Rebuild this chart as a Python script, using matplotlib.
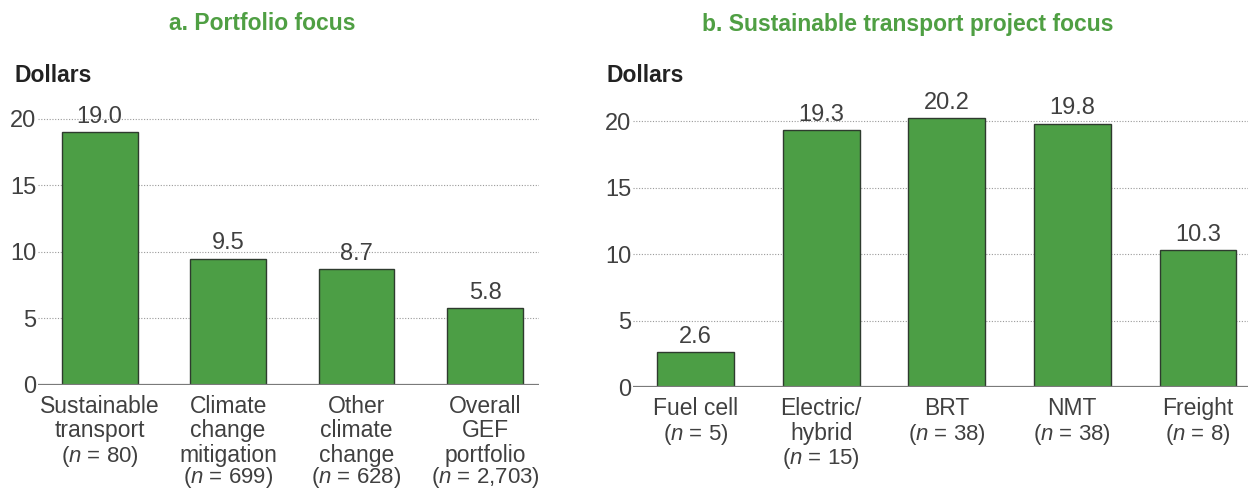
import matplotlib
matplotlib.use("Agg")
import matplotlib.pyplot as plt

plt.rcParams['font.family'] = ['Liberation Sans', 'DejaVu Sans']
plt.rcParams['mathtext.fontset'] = 'custom'
plt.rcParams['mathtext.it'] = 'Liberation Sans:italic'
plt.rcParams['mathtext.rm'] = 'Liberation Sans'

# panel a
cats_a = ["Sustainable\ntransport", "Climate\nchange\nmitigation", "Other\nclimate\nchange", "Overall\nGEF\nportfolio"]
n_a = ["80", "699", "628", "2,703"]
vals_a = [19.0, 9.5, 8.7, 5.8]

# panel b
cats_b = ["Fuel cell", "Electric/\nhybrid", "BRT", "NMT", "Freight"]
n_b = ["5", "15", "38", "38", "8"]
vals_b = [2.6, 19.3, 20.2, 19.8, 10.3]

bar_col = "#4c9e45"
edge_col = "#2e3b2e"
green_txt = "#4f9f43"
txt_col = "#404040"

fig = plt.figure(figsize=(12.48, 4.9), dpi=100)
ax1 = fig.add_axes([0.0304, 0.2143, 0.4015, 0.570])
ax2 = fig.add_axes([0.5072, 0.2102, 0.4928, 0.570])


def draw(ax, cats, ns, vals, width, xlim):
    x = list(range(len(cats)))
    ax.bar(x, vals, width=width, color=bar_col, edgecolor=edge_col, linewidth=1.0, zorder=3)
    ax.set_xlim(*xlim)
    ax.set_ylim(0, 21)
    ax.set_yticks([0, 5, 10, 15, 20])
    ax.tick_params(axis='y', length=0, pad=1, labelsize=17, labelcolor=txt_col)
    ax.set_xticks([])
    for s in ax.spines.values():
        s.set_visible(False)
    for y in [5, 10, 15, 20]:
        ax.axhline(y, color="#9a9a9a", linewidth=0.8, linestyle=(0, (1, 1.5)), zorder=1)
    ax.axhline(0, color="#7a7a7a", linewidth=1.6, zorder=4)
    for i, v in enumerate(vals):
        ax.annotate(f"{v:.1f}", xy=(i, v), xytext=(0, 3), textcoords='offset points',
                    ha='center', va='bottom', fontsize=17, color=txt_col, zorder=5)
    for i, (c, n) in enumerate(zip(cats, ns)):
        names = c.split("\n")
        for k, line in enumerate(names):
            ax.annotate(line, xy=(i, 0), xycoords=('data', 'axes fraction'),
                        xytext=(0, -20.2 - 17.6 * k), textcoords='offset points',
                        ha='center', va='baseline', fontsize=16.5, color=txt_col,
                        annotation_clip=False)
        gap = 17.6 if len(names) < 3 else 15.0
        y_n = -20.2 - 17.6 * (len(names) - 1) - gap
        ax.annotate(r"($\mathit{n}$ = " + n + ")", xy=(i, 0), xycoords=('data', 'axes fraction'),
                    xytext=(0, y_n), textcoords='offset points',
                    ha='center', va='baseline', fontsize=16, color=txt_col,
                    annotation_clip=False)


draw(ax1, cats_a, n_a, vals_a, 0.59, (-0.48, 3.42))
draw(ax2, cats_b, n_b, vals_b, 0.61, (-0.5, 4.4))

fig.text(262 / 1248, 1 - 24 / 490, "a. Portfolio focus", ha='center', va='center',
         fontsize=16.5, fontweight='bold', color=green_txt)
fig.text(908 / 1248, 1 - 24 / 490, "b. Sustainable transport project focus", ha='center', va='center',
         fontsize=16.5, fontweight='bold', color=green_txt)
fig.text(14 / 1248, 1 - 75 / 490, "Dollars", ha='left', va='center', fontsize=16.5,
         fontweight='bold', color="#222222")
fig.text(606 / 1248, 1 - 75 / 490, "Dollars", ha='left', va='center', fontsize=16.5,
         fontweight='bold', color="#222222")

fig.savefig("out.png", dpi=100)
